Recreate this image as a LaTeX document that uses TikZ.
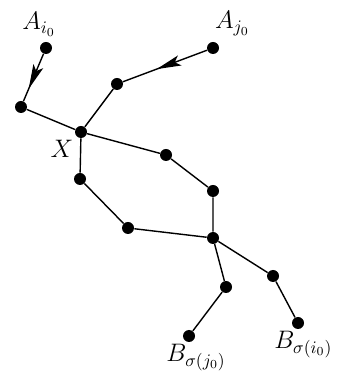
\documentclass[tikz,border=0pt]{standalone}
\usetikzlibrary{arrows.meta,decorations.markings}

\tikzset{
    dot/.style={circle, fill=black, inner sep=0pt, minimum size=2.4mm},
    edge/.style={line width=0.8pt},
    midarrow/.style={edge, postaction={decorate},
        decoration={markings, mark=at position #1 with {\arrow{Stealth[length=14pt,width=6pt,inset=3pt]}}}},
    midarrow/.default=0.6,
    every label/.style={font=\Large, inner sep=1pt}
}

\begin{document}
\begin{tikzpicture}
    % =========================================
    % 1. 画布 (343x377 的比例)
    % =========================================
    \useasboundingbox (0,0) rectangle (6.86,7.54);

    % =========================================
    % 2. 顶点
    % =========================================
    \node[dot, label={[xshift=-4pt,label distance=2pt]above:$A_{i_0}$}] (Ai) at (0.92,6.58) {};
    \node[dot, label={[xshift=11pt,label distance=2pt]above:$A_{j_0}$}] (Aj) at (4.26,6.58) {};
    \node[dot] (v1) at (2.34,5.86) {};
    \node[dot] (v2) at (0.42,5.40) {};
    \node[dot, label={[label distance=1pt]below left:$X$}] (X) at (1.62,4.90) {};

    % 中间的环
    \node[dot] (v3) at (3.32,4.44) {};
    \node[dot] (v4) at (4.26,3.72) {};
    \node[dot] (v5) at (1.60,3.96) {};
    \node[dot] (v6) at (2.56,2.98) {};
    \node[dot] (Y)  at (4.26,2.78) {};

    % 底部分支
    \node[dot] (v7) at (5.46,2.02) {};
    \node[dot] (v8) at (4.52,1.80) {};
    \node[dot, label={[xshift=3pt]below:$B_{\sigma(i_0)}$}] (Bi) at (5.96,1.08) {};
    \node[dot, label={[xshift=4pt]below:$B_{\sigma(j_0)}$}] (Bj) at (3.78,0.82) {};

    % =========================================
    % 3. 边
    % =========================================
    \draw[midarrow=0.74] (Ai) -- (v2);
    \draw[midarrow=0.6] (Aj) -- (v1);
    \draw[edge] (v2) -- (X);
    \draw[edge] (v1) -- (X);

    \draw[edge] (X) -- (v3) -- (v4) -- (Y);
    \draw[edge] (X) -- (v5) -- (v6) -- (Y);

    \draw[edge] (Y) -- (v8) -- (Bj);
    \draw[edge] (Y) -- (v7) -- (Bi);

\end{tikzpicture}
\end{document}
